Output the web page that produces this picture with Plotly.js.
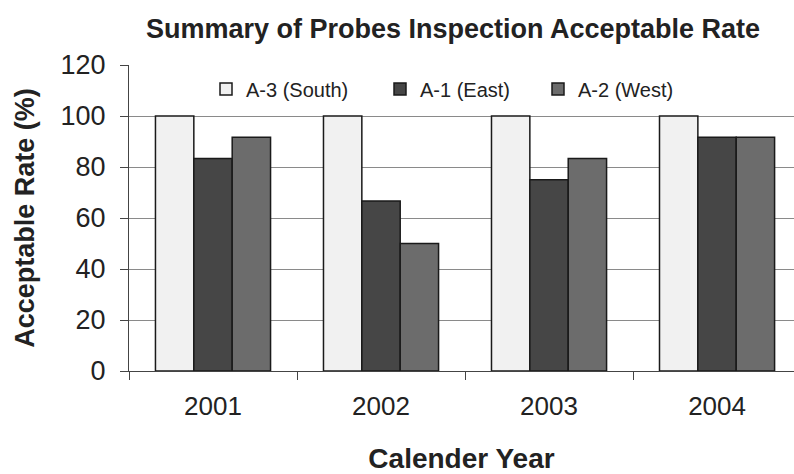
<!DOCTYPE html>
<html>
<head>
<meta charset="utf-8">
<script src="https://cdn.plot.ly/plotly-3.0.1.min.js"></script>
<style>html,body{margin:0;padding:0;background:#fff;}#chart{width:794px;height:474px;}</style>
</head>
<body>
<div id="chart"></div>
<script>
const years = ['2001', '2002', '2003', '2004'];
const southA3 = [100, 100, 100, 100];
const eastA1 = [83.3, 66.7, 75, 91.7];
const westA2 = [91.7, 50, 83.3, 91.7];
const seriesNames = ['A-3 (South)', 'A-1 (East)', 'A-2 (West)'];

const FONT = 'Liberation Sans, Arial, sans-serif';
const lineStyle = {color: '#1a1a1a', width: 1.5};

const traces = [
  {type: 'bar', name: seriesNames[0], x: years, y: southA3,
   marker: {color: '#f1f1f1', line: lineStyle}, legend: 'legend'},
  {type: 'bar', name: seriesNames[1], x: years, y: eastA1,
   marker: {color: '#464646', line: lineStyle}, legend: 'legend2'},
  {type: 'bar', name: seriesNames[2], x: years, y: westA2,
   marker: {color: '#6c6c6c', line: lineStyle}, legend: 'legend3'}
];

// plot area in pixels: x 129..794, y 65..371
const PX0 = 129, PW = 665, PY0 = 65, PH = 306;
const legendBase = {
  xref: 'paper', yref: 'paper', xanchor: 'left', yanchor: 'middle',
  y: (PY0 + PH - 89) / PH, orientation: 'h', bgcolor: 'rgba(0,0,0,0)', borderwidth: 0,
  font: {family: FONT, size: 20, color: '#222'}
};

const layout = {
  width: 794, height: 474,
  paper_bgcolor: '#ffffff', plot_bgcolor: '#ffffff',
  margin: {l: PX0, r: 0, t: PY0, b: 474 - PY0 - PH, autoexpand: false},
  font: {family: FONT, color: '#222'},
  title: {
    text: 'Summary of Probes Inspection Acceptable Rate',
    font: {family: FONT, size: 27, color: '#222', weight: 'bold'},
    xref: 'container', yref: 'container', x: 453/794, xanchor: 'center',
    y: 1 - 29/474, yanchor: 'middle'
  },
  barmode: 'group', bargap: 0.315, bargroupgap: 0,
  showlegend: true,
  legend: Object.assign({}, legendBase, {x: (206 - PX0) / PW}),
  legend2: Object.assign({}, legendBase, {x: (380 - PX0) / PW}),
  legend3: Object.assign({}, legendBase, {x: (538 - PX0) / PW}),
  xaxis: {
    type: 'category', range: [-0.5, 3.458],
    tickson: 'boundaries', ticks: 'outside', ticklen: 8, tickcolor: '#444', tickwidth: 1,
    showline: true, linecolor: '#444', linewidth: 1, showgrid: false,
    tickfont: {family: FONT, size: 26, color: '#222'},
    ticklabelstandoff: 12,
    title: {text: 'Calender Year', font: {family: FONT, size: 28, color: '#222', weight: 'bold'}, standoff: 34},
    automargin: false
  },
  yaxis: {
    range: [0, 120], dtick: 20, tick0: 0,
    ticks: 'outside', ticklen: 8, tickcolor: '#444', tickwidth: 1,
    showline: true, linecolor: '#444', linewidth: 1,
    showgrid: true, gridcolor: '#8a8a8a', gridwidth: 1, zeroline: false,
    tickfont: {family: FONT, size: 27, color: '#222'},
    ticklabelstandoff: 9,
    title: {text: 'Acceptable Rate (%)', font: {family: FONT, size: 27, color: '#222', weight: 'bold'}, standoff: 18},
    automargin: false
  }
};

Plotly.newPlot('chart', traces, layout, {staticPlot: true, displayModeBar: false});
</script>
</body>
</html>
